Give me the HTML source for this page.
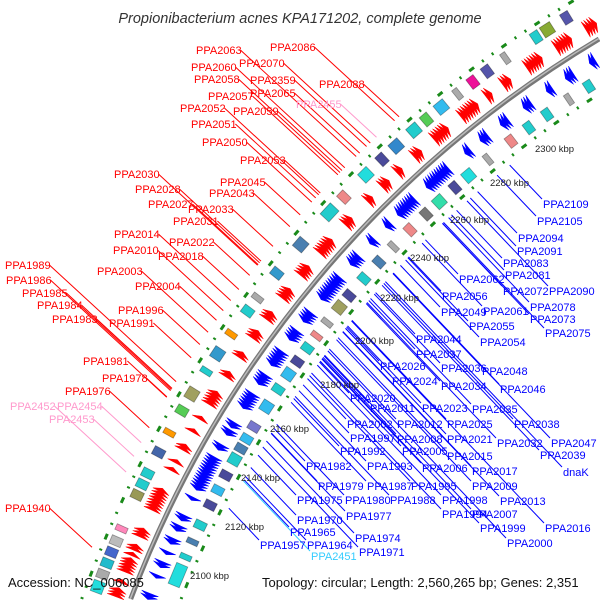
<!DOCTYPE html>
<html><head><meta charset="utf-8"><style>
html,body{margin:0;padding:0;background:#fff;width:600px;height:600px;overflow:hidden;}
svg{display:block;font-family:"Liberation Sans",sans-serif;overflow:hidden;}
</style></head><body>
<svg id="map" width="600" height="600" viewBox="0 0 600 600">
<text x="300" y="23" text-anchor="middle" font-size="14.5" font-style="italic" fill="#333">Propionibacterium acnes KPA171202, complete genome</text>
<g id="rings"></g><g id="feat"></g><g id="leaders"></g><g id="labels"></g>
<text x="8" y="587" font-size="13" fill="#111">Accession: NC_006085</text>
<text x="262" y="587" font-size="13" fill="#111">Topology: circular; Length: 2,560,265 bp; Genes: 2,351</text>
</svg>
<script>
const forwardKb=[2079,2080,2081,2084,2088,2089,2090,2091,2092,2094,2096,2097,2101,2102,2103,2111,2112,2113,2114,2115,2116,2117,2118,2126,2129,2134,2135,2141,2146,2152,2153,2154,2155,2156,2163,2164,2171,2172,2179,2180,2181,2187,2188,2189,2196,2197,2198,2199,2206,2207,2208,2209,2216,2217,2218,2219,2220,2221,2229,2230,2231,2240,2241,2247,2248,2249,2254,2255,2262,2263,2264,2271,2272,2273,2274,2275,2276,2283,2284,2285,2286,2287,2288,2289,2294,2295,2301,2302,2303,2311,2312,2313,2314,2315,2316,2323,2324,2325,2326,2327,2328,2335,2336,2337,2338,2339,2340];
const reverseKb=[2075,2076,2077,2078,2079,2080,2082,2083,2090,2094,2095,2099,2103,2104,2108,2109,2112,2113,2120,2124,2125,2126,2127,2128,2129,2130,2131,2132,2133,2134,2135,2136,2140,2141,2146,2147,2149,2150,2157,2158,2159,2160,2161,2162,2167,2168,2169,2170,2175,2176,2177,2178,2179,2180,2186,2187,2188,2189,2194,2195,2196,2197,2204,2205,2206,2207,2208,2209,2210,2211,2212,2213,2220,2221,2222,2223,2230,2231,2238,2239,2244,2245,2246,2247,2248,2249,2250,2251,2258,2259,2260,2261,2262,2263,2264,2265,2266,2267,2276,2277,2283,2284,2285,2292,2293,2294,2302,2303,2304,2312,2313,2320,2321,2322,2330,2331];
const outerBoxKb=[2078,2083,2087,2091,2095,2100,2112,2116,2120,2128,2136,2144,2150,2160,2166,2175,2184,2190,2200,2212,2226,2234,2244,2252,2258,2266,2272,2278,2286,2292,2298,2306,2318,2322,2330,2338];
const outerBoxCol=["#22dddd","#aaaaaa","#22bbcc","#4466cc","#bbbbbb","#ff88bb","#999955","#22cccc","#22cccc","#4466aa","#ff9900","#55cc55","#a0a060","#22cccc","#3399cc","#ff9900","#22cccc","#aaaaaa","#3399cc","#4a7fb0","#22cccc","#ee8888","#22dddd","#4a4a9a","#3388cc","#22cccc","#55cc55","#33bbee","#aaaaaa","#ee1199","#5555aa","#aaaaaa","#22cccc","#88aa33","#5555aa","#aaaaaa"];
const outerBoxLen=[4,3,3,3,3,2,3,3,3,3,2,3,4,2,4,2,3,2,3,4,5,3,4,3,4,4,3,4,2,3,3,2,3,4,3,2];
const innerBoxKb=[2090,2100,2106,2112,2120,2126,2132,2138,2143,2147,2152,2160,2168,2174,2180,2186,2192,2198,2204,2210,2218,2226,2234,2242,2250,2256,2264,2270,2280,2290,2298,2306,2316,2324,2332];
const innerBoxCol=["#22dddd","#22cccc","#4a7fb0","#22cccc","#4a4a9a","#33bbee","#4a4a9a","#22cccc","#4a7fb0","#33bbee","#7777cc","#33bbee","#22cccc","#33bbee","#4a4a9a","#22cccc","#ee8888","#aaaaaa","#a0a060","#4a4a9a","#22cccc","#4a7fb0","#aaaaaa","#ee8888","#777777","#33ddaa","#4a4a9a","#22dddd","#aaaaaa","#ee8888","#22cccc","#22cccc","#aaaaaa","#22cccc","#ee8888"];
const innerBoxLen=[8,2,2,3,3,3,3,4,3,3,3,4,3,4,3,3,2,2,4,3,3,3,2,3,3,4,3,4,2,3,3,3,2,3,3];
const tickKb=[2100,2120,2140,2160,2180,2200,2220,2240,2260,2280,2300];
const tickText=["2100 kbp","2120 kbp","2140 kbp","2160 kbp","2180 kbp","2200 kbp","2220 kbp","2240 kbp","2260 kbp","2280 kbp","2300 kbp"];
const tickPos=[[190,579],[225,530],[241,481],[270,432],[320,388],[355,344],[380,301],[410,261],[450,223],[490,186],[535,152]];
const redLabels=["PPA2063","PPA2086","PPA2070","PPA2060","PPA2058","PPA2359","PPA2088","PPA2057","PPA2065","PPA2052","PPA2059","PPA2051","PPA2050","PPA2053","PPA2030","PPA2045","PPA2028","PPA2043","PPA2027","PPA2033","PPA2031","PPA2014","PPA2022","PPA2010","PPA2018","PPA1989","PPA2003","PPA1986","PPA2004","PPA1985","PPA1984","PPA1996","PPA1983","PPA1991","PPA1981","PPA1978","PPA1976","PPA1940"];
const redPos=[[196,54],[270,51],[239,67],[191,71],[194,83],[250,84],[319,88],[208,100],[250,97],[180,112],[233,115],[191,128],[202,146],[240,164],[114,178],[220,186],[135,193],[209,197],[148,208],[188,213],[173,225],[114,238],[169,246],[113,254],[158,260],[5,269],[97,275],[6,284],[135,290],[22,297],[37,309],[118,314],[52,323],[109,327],[83,365],[102,382],[65,395],[5,512]];
const pinkLabels=["PPA2455","PPA2452","PPA2454","PPA2453"];
const pinkPos=[[296,108],[10,410],[57,410],[49,423]];
const blueLabels=["PPA2109","PPA2105","PPA2094","PPA2091","PPA2083","PPA2081","PPA2090","PPA2062","PPA2072","PPA2056","PPA2078","PPA2049","PPA2061","PPA2073","PPA2055","PPA2075","PPA2044","PPA2054","PPA2037","PPA2026","PPA2036","PPA2048","PPA2024","PPA2034","PPA2046","PPA2020","PPA2011","PPA2023","PPA2035","PPA2002","PPA2012","PPA2025","PPA2038","PPA1997","PPA2008","PPA2021","PPA2032","PPA2047","PPA1992","PPA2005","PPA2015","PPA2039","PPA1982","PPA1993","PPA2006","PPA2017","dnaK","PPA1995","PPA2009","PPA1979","PPA1987","PPA1975","PPA1980","PPA1988","PPA1998","PPA2013","PPA1977","PPA1994","PPA2007","PPA1970","PPA2016","PPA1965","PPA1999","PPA1974","PPA1957","PPA1964","PPA2000","PPA1971"];
const bluePos=[[543,208],[537,225],[518,242],[517,255],[503,267],[505,279],[549,295],[459,283],[503,295],[442,300],[530,311],[441,316],[483,315],[530,323],[469,330],[545,337],[416,343],[480,346],[416,358],[380,370],[441,372],[482,375],[392,385],[441,390],[500,393],[350,402],[370,412],[422,412],[472,413],[347,428],[397,428],[447,428],[514,428],[350,442],[397,443],[447,443],[497,447],[551,447],[340,455],[402,455],[447,460],[540,459],[306,470],[367,470],[422,472],[472,475],[563,476],[411,490],[472,490],[318,490],[367,490],[297,504],[345,504],[390,504],[442,504],[500,505],[346,520],[442,518],[472,518],[297,524],[545,532],[290,536],[480,532],[355,542],[260,549],[307,549],[507,547],[359,556]];
const cyanLabels=["PPA2451"];
const cyanPos=[[311,560]];

const NS="http://www.w3.org/2000/svg";
const CX=1165,CY=988;
function ang(kb){return (-42.4+(kb-2260)*0.15)*Math.PI/180;}
function pt(kb,r){const a=ang(kb);return [CX+r*Math.sin(a),CY-r*Math.cos(a)];}
function inside(p){return p[0]>=0&&p[0]<=600&&p[1]>=0&&p[1]<=600;}
function mk(tag,attrs,parent){const e=document.createElementNS(NS,tag);for(const k in attrs)e.setAttribute(k,attrs[k]);parent.appendChild(e);return e;}
const rings=document.getElementById('rings'),feat=document.getElementById('feat'),leaders=document.getElementById('leaders'),labels=document.getElementById('labels');

function arcD(r){
  const a0=-Math.acos(Math.min(1,(CY-599)/r));
  const a1=-Math.asin(Math.min(1,(CX-599)/r));
  const p0=[CX+r*Math.sin(a0),CY-r*Math.cos(a0)],p1=[CX+r*Math.sin(a1),CY-r*Math.cos(a1)];
  return 'M'+p0[0].toFixed(1)+','+p0[1].toFixed(1)+' A'+r+','+r+' 0 0 1 '+p1[0].toFixed(1)+','+p1[1].toFixed(1);
}
let c1=mk('path',{d:arcD(1151),fill:'none',stroke:'#1a8a1a','stroke-width':3,'stroke-dasharray':'2 10 2 10 6 10'},rings);


let c2=mk('path',{d:arcD(1058),fill:'none',stroke:'#1a8a1a','stroke-width':3,'stroke-dasharray':'2 10 6 10 2 10'},rings);


let bb=mk('path',{d:arcD(1105),fill:'none',stroke:'#777','stroke-width':5},rings);


let bb2=mk('path',{d:arcD(1105.5),fill:'none',stroke:'#bbb','stroke-width':1.5},rings);



function arrow(kb,dir,r0,r1,col,name){
  const L=1.3;let p;
  if(dir>0){p=[pt(kb,r0),pt(kb,r1),pt(kb+L,(r0+r1)/2)];}
  else{p=[pt(kb+L,r0),pt(kb+L,r1),pt(kb,(r0+r1)/2)];}
  if(!p.every(inside))return;
  const e=mk('polygon',{points:p.map(q=>q[0].toFixed(1)+','+q[1].toFixed(1)).join(' '),fill:col,stroke:col,'stroke-width':0.5},feat);
  
  
}
forwardKb.forEach(k=>arrow(k,1,1111,1129,'#f00','forward-gene'));
reverseKb.forEach(k=>arrow(k,-1,1080,1098,'#00f','reverse-gene'));

function box(kb,len,r0,r1,col,name){
  const p=[pt(kb,r0),pt(kb,r1),pt(kb+len,r1),pt(kb+len,r0)];
  if(!p.every(inside))return;
  const e=mk('polygon',{points:p.map(q=>q[0].toFixed(1)+','+q[1].toFixed(1)).join(' '),fill:col,stroke:'rgba(0,0,0,0.35)','stroke-width':0.8},feat);
  
  
}
outerBoxKb.forEach((k,i)=>box(k,outerBoxLen[i],1134,1146,outerBoxCol[i],'outer-cog-box'));
innerBoxKb.forEach((k,i)=>box(k,innerBoxLen[i],1064,1076,innerBoxCol[i],'inner-cog-box'));

tickKb.forEach((k,i)=>{
  const t=mk('text',{x:tickPos[i][0],y:tickPos[i][1],'font-size':9.5,fill:'#222'},labels);
  t.textContent=tickText[i];
  
  
});

function hit(px,py,dx,dy,r,outer){
  const n=Math.hypot(dx,dy);dx/=n;dy/=n;
  const ox=px-CX,oy=py-CY,b=dx*ox+dy*oy,c=ox*ox+oy*oy-r*r,D=b*b-c;
  if(D<0)return [px+dx*40,py+dy*40];
  const t=outer?(-b-Math.sqrt(D)):(-b+Math.sqrt(D));
  return [px+dx*t,py+dy*t];
}
function label(txt,pos,col,side){
  const t=mk('text',{x:pos[0],y:pos[1],'font-size':11,fill:col},labels);
  t.textContent=txt;
  
  
  const w=txt.length*6.2;
  let s,e;
  if(side==='out'){s=[pos[0]+w+1,pos[1]-4];e=hit(s[0],s[1],1,0.92,1160,true);}
  else{s=[pos[0]-1,pos[1]-9];e=hit(s[0],s[1],-1,-1.05,1052,false);}
  const l=mk('line',{x1:s[0].toFixed(1),y1:s[1].toFixed(1),x2:e[0].toFixed(1),y2:e[1].toFixed(1),stroke:col,'stroke-width':1},leaders);
  
  
}
redLabels.forEach((t,i)=>label(t,redPos[i],'#f00','out'));
pinkLabels.forEach((t,i)=>label(t,pinkPos[i],'#ff99cc','out'));
blueLabels.forEach((t,i)=>label(t,bluePos[i],'#00f','in'));
cyanLabels.forEach((t,i)=>label(t,cyanPos[i],'#33ccff','in'));
</script>
</body></html>
